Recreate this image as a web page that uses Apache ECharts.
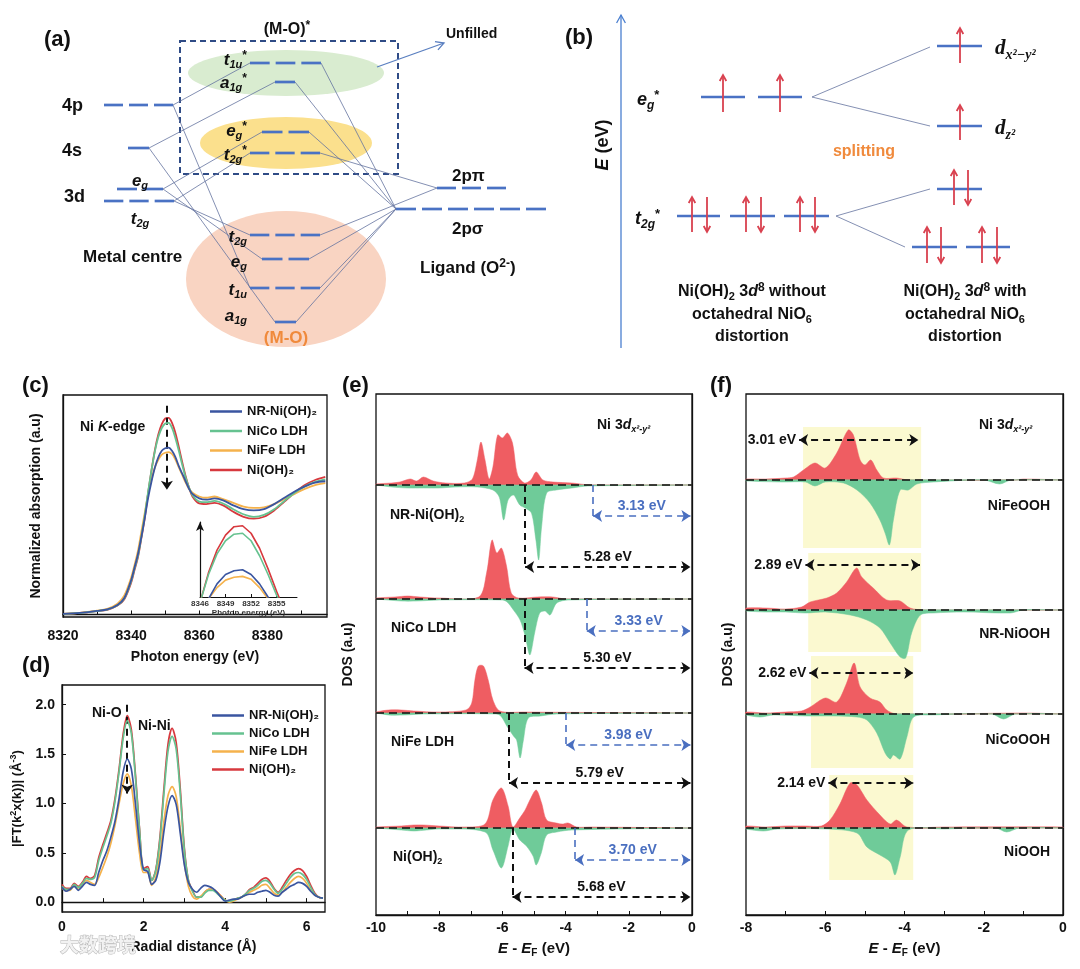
<!DOCTYPE html>
<html><head><meta charset="utf-8">
<script src="https://cdn.jsdelivr.net/npm/echarts@6.0.0/dist/echarts.min.js"></script>
<style>html,body{margin:0;padding:0;background:#fff}#main{width:1080px;height:969px}</style>
</head><body><div id="main"></div>
<script>
// ---------------- DATA ----------------
// (c) Ni K-edge XANES
const xanesE = [8320,8325,8330,8333,8336,8338,8340,8341,8342,8343,
  8344,8345,8346,8347,8348,8349,8350,8351,8352,8353,
  8354,8355,8356,8357,8358,8360,8362,8364.5,8367,8370,
  8373,8376,8379,8382,8385,8388,8391,8394,8397];
const xanesNR = [0.005,0.012,0.028,0.04,0.075,0.13,0.27,0.37,0.475,0.61,
  0.76,0.92,1.05,1.16,1.24,1.29,1.31,1.315,1.29,1.24,
  1.17,1.11,1.05,0.99,0.95,0.915,0.905,0.915,0.9,0.86,
  0.83,0.82,0.83,0.87,0.92,0.97,1.01,1.04,1.05];
const xanesNiCo = [0.005,0.012,0.027,0.038,0.072,0.125,0.26,0.36,0.46,0.61,
  0.78,0.97,1.14,1.29,1.40,1.47,1.505,1.51,1.47,1.39,
  1.29,1.18,1.08,1.00,0.94,0.89,0.885,0.895,0.875,0.83,
  0.79,0.77,0.785,0.83,0.895,0.96,1.01,1.045,1.065];
const xanesNiFe = [0.005,0.013,0.03,0.045,0.085,0.15,0.29,0.39,0.5,0.65,
  0.80,0.95,1.07,1.16,1.22,1.26,1.275,1.28,1.265,1.22,
  1.16,1.10,1.04,0.99,0.96,0.93,0.92,0.93,0.91,0.88,
  0.85,0.84,0.845,0.87,0.91,0.95,0.99,1.02,1.035];
const xanesNiOH = [0.005,0.012,0.026,0.037,0.07,0.12,0.25,0.35,0.45,0.6,
  0.76,0.96,1.14,1.30,1.42,1.50,1.545,1.55,1.51,1.43,
  1.32,1.20,1.09,1.00,0.93,0.875,0.87,0.88,0.86,0.81,
  0.77,0.755,0.77,0.82,0.89,0.96,1.02,1.06,1.085];
const xanesTicks = [8320,8340,8360,8380];
const insetTicks = [8346,8349,8352,8355];

// (d) EXAFS FT
const exafsR = [0.0,0.1,0.2,0.3,0.4,0.5,0.6,0.7,0.8,0.9,
  1.0,1.1,1.2,1.3,1.4,1.5,1.6,1.7,1.8,1.9,
  2.0,2.1,2.2,2.3,2.4,2.5,2.6,2.7,2.8,2.9,
  3.0,3.1,3.2,3.3,3.4,3.5,3.6,3.7,3.8,3.9,
  4.0,4.1,4.2,4.3,4.4,4.5,4.6,4.7,4.8,4.9,
  5.0,5.1,5.2,5.3,5.4,5.5,5.6,5.7,5.8,5.9,
  6.0,6.1,6.2,6.3,6.4];
const exafsNiOH = [0.18,0.14,0.14,0.19,0.16,0.20,0.26,0.24,0.27,0.45,
  0.58,0.70,0.83,1.05,1.35,1.70,1.89,1.75,1.30,0.75,
  0.34,0.36,0.22,0.33,0.65,1.15,1.60,1.76,1.62,1.15,
  0.55,0.22,0.12,0.05,0.05,0.10,0.13,0.13,0.10,0.06,
  0.02,0.01,0.02,0.04,0.05,0.08,0.13,0.15,0.19,0.23,
  0.245,0.21,0.14,0.10,0.15,0.22,0.28,0.32,0.34,0.32,
  0.26,0.17,0.09,0.05,0.04];
const exafsNiCo = [0.16,0.13,0.13,0.18,0.15,0.19,0.24,0.23,0.25,0.42,
  0.55,0.67,0.80,1.02,1.32,1.66,1.84,1.71,1.27,0.74,
  0.33,0.34,0.22,0.32,0.62,1.10,1.53,1.68,1.55,1.10,
  0.53,0.22,0.11,0.05,0.05,0.09,0.12,0.12,0.09,0.05,
  0.02,0.01,0.02,0.04,0.05,0.08,0.12,0.14,0.17,0.21,
  0.22,0.19,0.13,0.09,0.13,0.19,0.25,0.29,0.30,0.28,
  0.23,0.15,0.08,0.05,0.04];
const exafsNR = [0.15,0.11,0.13,0.16,0.12,0.16,0.20,0.18,0.17,0.30,
  0.42,0.52,0.66,0.82,1.05,1.32,1.45,1.35,1.00,0.60,
  0.33,0.31,0.18,0.22,0.40,0.72,0.97,1.08,0.99,0.70,
  0.38,0.20,0.13,0.10,0.14,0.17,0.16,0.14,0.10,0.05,
  0.01,0.02,0.03,0.03,0.05,0.07,0.08,0.08,0.10,0.11,
  0.12,0.10,0.07,0.06,0.10,0.13,0.16,0.18,0.20,0.19,
  0.16,0.11,0.07,0.05,0.04];
const exafsNiFe = [0.14,0.12,0.12,0.17,0.13,0.18,0.22,0.20,0.18,0.25,
  0.35,0.46,0.60,0.78,1.00,1.20,1.30,1.18,0.85,0.50,
  0.30,0.30,0.17,0.25,0.48,0.82,1.08,1.17,1.07,0.75,
  0.40,0.16,0.06,0.03,0.06,0.10,0.13,0.13,0.10,0.06,
  0.02,0.00,0.01,0.03,0.05,0.07,0.10,0.12,0.14,0.17,
  0.18,0.14,0.09,0.07,0.10,0.15,0.20,0.24,0.26,0.24,
  0.19,0.12,0.07,0.05,0.04];
const exafsYTicks = [0,0.5,1,1.5,2];
const exafsXTicks = [0,2,4,6];

// (e) Ni 3d(x2-y2) PDOS of the hydroxides: [E - EF, DOS]; spin-up / spin-down magnitude
const eNR_up = [[-10,0.01],[-9.5,0.02],[-9.24,0.03],[-8.92,0.06],[-8.71,0.04],[-8.5,0.08],[-8.19,0.04],[-7.8,0.02],[-7.2,0.02],[-6.95,0.06],[-6.8,0.24],[-6.68,0.43],[-6.55,0.25],[-6.42,0.06],[-6.3,0.18],[-6.15,0.5],[-6.0,0.47],[-5.84,0.52],[-5.68,0.42],[-5.52,0.1],[-5.3,0.02],[-5.1,0.05],[-4.93,0.13],[-4.72,0.05],[-4.4,0.03],[-3.8,0.02],[-3.2,0.0],[0,0]];
const eNR_dn = [[-10,0],[-9.5,0.02],[-9,0.03],[-8.5,0.03],[-8,0.03],[-7.5,0.02],[-6.8,0.02],[-6.3,0.05],[-6.1,0.12],[-5.96,0.35],[-5.82,0.15],[-5.65,0.1],[-5.45,0.2],[-5.28,0.23],[-5.08,0.28],[-4.94,0.55],[-4.85,0.75],[-4.76,0.42],[-4.6,0.08],[-4.3,0.05],[-3.8,0.03],[-3.3,0.01],[0,0]];
const eNiCo_up = [[-10,0.01],[-9.4,0.02],[-9,0.03],[-8.6,0.02],[-8,0.01],[-6.75,0.02],[-6.5,0.26],[-6.33,0.59],[-6.18,0.46],[-6.03,0.51],[-5.87,0.33],[-5.72,0.06],[-5.5,0.01],[-4.9,0.02],[-4.4,0.02],[-4,0.0],[0,0]];
const eNiCo_dn = [[-10,0],[-9.2,0.02],[-8.7,0.02],[-8,0.01],[-6,0.01],[-5.85,0.03],[-5.65,0.11],[-5.44,0.21],[-5.28,0.37],[-5.13,0.56],[-4.98,0.34],[-4.82,0.14],[-4.65,0.12],[-4.49,0.16],[-4.28,0.04],[-3.9,0.01],[0,0]];
const eNiFe_up = [[-10,0.01],[-9.6,0.03],[-9.2,0.03],[-8.8,0.02],[-8,0.01],[-7.15,0.03],[-6.97,0.1],[-6.87,0.33],[-6.76,0.47],[-6.6,0.47],[-6.45,0.33],[-6.3,0.13],[-6.08,0.02],[-5.3,0.01],[0,0]];
const eNiFe_dn = [[-10,0],[-9.6,0.02],[-9.1,0.02],[-8.5,0.01],[-6.2,0.01],[-6.05,0.03],[-5.86,0.13],[-5.65,0.23],[-5.55,0.27],[-5.44,0.45],[-5.34,0.28],[-5.18,0.05],[-4.8,0.03],[-4.28,0.01],[0,0]];
const eNiOH_up = [[-10,0.01],[-9.2,0.02],[-8.8,0.03],[-8.5,0.03],[-8,0.02],[-7.2,0.01],[-6.55,0.04],[-6.3,0.28],[-6.03,0.4],[-5.82,0.22],[-5.67,0.01],[-5.45,0.1],[-5.28,0.18],[-5.13,0.28],[-4.93,0.38],[-4.76,0.25],[-4.6,0.08],[-4.3,0.05],[-4.1,0.04],[-3.92,0.05],[-3.65,0.01],[-3.2,0.01],[0,0]];
const eNiOH_dn = [[-10,0],[-9.2,0.02],[-8.8,0.03],[-8.4,0.02],[-8,0.01],[-6.55,0.04],[-6.3,0.22],[-6.03,0.4],[-5.82,0.18],[-5.67,0.01],[-5.45,0.12],[-5.24,0.18],[-5.03,0.28],[-4.93,0.37],[-4.77,0.25],[-4.6,0.07],[-4.28,0.04],[-3.8,0.02],[0,0]];
const eGapBlue = [3.13, 3.33, 3.98, 3.70];
const eGapBlack = [5.28, 5.30, 5.79, 5.68];

// (f) Ni 3d(x2-y2) PDOS of the oxyhydroxides
const fNiFe_up = [[-8,0.01],[-7.5,0.01],[-7,0.02],[-6.8,0.03],[-6.55,0.1],[-6.26,0.17],[-6.0,0.12],[-5.71,0.27],[-5.42,0.5],[-5.29,0.45],[-5.12,0.2],[-5.0,0.15],[-4.85,0.2],[-4.7,0.1],[-4.53,0.02],[-4.2,0.02],[-3.9,0.0],[-1.2,0.0],[-1.0,0.01],[0,0]];
const fNiFe_dn = [[-8,0.01],[-7.06,0.02],[-6.5,0.02],[-6.26,0.06],[-6.0,0.02],[-5.54,0.03],[-5.2,0.1],[-4.87,0.23],[-4.62,0.4],[-4.49,0.53],[-4.38,0.65],[-4.28,0.4],[-4.11,0.1],[-3.9,0.1],[-3.69,0.04],[-3.27,0.02],[-2,0.0],[-1.6,0.04],[-1.3,0.0],[0,0]];
const fNR_up = [[-8,0.02],[-7.5,0.02],[-7,0.01],[-6.6,0.03],[-6.38,0.08],[-5.96,0.12],[-5.71,0.17],[-5.46,0.28],[-5.21,0.42],[-5.08,0.33],[-4.79,0.22],[-4.45,0.1],[-4.11,0.09],[-3.86,0.02],[-3.5,0],[0,0]];
const fNR_dn = [[-8,0.01],[-7.5,0.02],[-7,0.02],[-6.5,0.03],[-6,0.02],[-5.37,0.05],[-4.95,0.1],[-4.62,0.18],[-4.36,0.33],[-4.11,0.47],[-3.97,0.48],[-3.82,0.23],[-3.6,0.05],[-3.27,0.03],[-2.5,0.02],[-1.33,0.03],[-1,0.0],[0,0]];
const fNiCo_up = [[-8,0.02],[-7.5,0.01],[-7,0.02],[-6.6,0.03],[-6.38,0.07],[-6.0,0.16],[-5.71,0.12],[-5.46,0.31],[-5.27,0.51],[-5.12,0.27],[-4.87,0.16],[-4.62,0.12],[-4.45,0.04],[-4.2,0],[-1,0.01],[0,0]];
const fNiCo_dn = [[-8,0.01],[-7.65,0.03],[-7.3,0.01],[-6.5,0.02],[-5.8,0.02],[-5.2,0.03],[-4.95,0.06],[-4.7,0.19],[-4.49,0.39],[-4.36,0.45],[-4.28,0.41],[-4.11,0.45],[-3.94,0.23],[-3.77,0.03],[-3.3,0.01],[-1.8,0.0],[-1.5,0.05],[-1.2,0],[0,0]];
const fNiOOH_up = [[-8,0.02],[-7.5,0.01],[-7,0.02],[-6.5,0.02],[-6.1,0.02],[-5.88,0.08],[-5.63,0.24],[-5.37,0.45],[-5.2,0.43],[-4.95,0.28],[-4.62,0.13],[-4.36,0.04],[-4.2,0.08],[-3.94,0.01],[-3,0.01],[0,0.01]];
const fNiOOH_dn = [[-8,0.01],[-7.56,0.03],[-7.2,0.01],[-6,0.01],[-5.2,0.05],[-4.95,0.19],[-4.62,0.27],[-4.36,0.34],[-4.24,0.47],[-4.11,0.29],[-3.9,0.02],[-3,0.01],[-1.7,0.0],[-1.42,0.04],[-1.1,0],[0,0]];
const fGap = [3.01, 2.89, 2.62, 2.14];
const fGapStart = [-6.66, -6.50, -6.40, -5.92];
const fBands = [[-6.56,-3.58,3.67,4.88],[-6.43,-3.58,2.63,3.62],[-6.36,-3.78,1.47,2.59],[-5.90,-3.78,0.35,1.40]];

// (a) MO diagram, energy levels: [left, right, level, number of degenerate orbitals]
const aMetalLevels = [[104,173,105,3],[128,149,148,1],[117,163,189,2],[104,174,201,3]];
const aMOLevels = [[250,321,63,3],[275,295,82,1],[262,309,132,2],[250,320,153,3],[250,320,235,3],[262,309,259,2],[250,320,288,3],[275,296,322,1]];
const aLigandLevels = [[437,506,188,3],[396,546,209,6]];
const aLinks = [[173,105,250,63],[173,105,250,288],[149,148,275,82],[149,148,275,322],[163,189,262,132],[163,189,262,259],[174,201,250,153],[174,201,250,235],
  [396,209,321,63],[396,209,295,82],[396,209,309,132],[396,209,320,288],[396,209,296,322],[396,209,309,259],[437,188,320,153],[437,188,320,235]];
const aClouds = [[286,73,98,23],[286,143,86,26],[286,279,100,68]];
const aBox = [[180,41,398,174]];
const aArrow = [[377,67,444,43]];
// (b) crystal-field splitting diagram
const bLevels = [[701,745,97,1],[758,802,97,1],[937,982,46,1],[937,982,126,1],[677,720,216,1],[730,775,216,1],[784,829,216,1],[937,982,189,1],[912,957,247,1],[966,1010,247,1]];
const bLinks = [[812,97,930,47],[812,97,930,126],[836,216,930,189],[836,216,905,247]];
const bSpins = [[723,112,75],[780,112,75],[960,63,28],[960,140,105],[692,232,197],[707,197,232],[746,232,197],[761,197,232],[800,232,197],[815,197,232],[954,205,170],[968,170,205],[927,263,227],[941,227,263],[982,263,227],[997,227,263]];
const bAxis = [[621,348,621,15]];

// ---------------- STYLE ----------------
const F = '"Liberation Sans", Arial, Helvetica, sans-serif';
const FSERIF = '"Liberation Serif", "DejaVu Serif", "Times New Roman", serif';
const INK = '#111';
const C_BLUE = '#3a55a0', C_GREEN = '#66c290', C_ORANGE = '#f5b24c', C_RED = '#d7393e';
const DOS_RED = '#ef5d62', DOS_GREEN = '#6fcb99';
const LV = '#4a72c4', LINK = '#6474a0', SPIN = '#d9414f', ANN_BLUE = '#4a6fc0';
const cloudColors = ['#d9ecd0', '#fbe08d', '#f9d4c2'];

function rich(size, fam) {
  fam = fam || F;
  const lh = Math.round(size * 1.25);
  const sm = Math.round(size * 0.66);
  const b = {fontFamily: fam, fontWeight: 'bold', fontSize: size, lineHeight: lh};
  return {
    n: b,
    i: Object.assign({}, b, {fontStyle: 'italic'}),
    s: {fontFamily: fam, fontWeight: 'bold', fontStyle: 'italic', fontSize: sm, lineHeight: Math.round(size * 0.6), verticalAlign: 'bottom'},
    sn: {fontFamily: fam, fontWeight: 'bold', fontSize: sm, lineHeight: Math.round(size * 0.6), verticalAlign: 'bottom'},
    p: {fontFamily: fam, fontWeight: 'bold', fontSize: Math.round(size * 0.72), lineHeight: Math.round(size * 0.6), verticalAlign: 'top'}
  };
}
function T(x, y, text, size, o) {
  o = o || {};
  const st = {text: text, rich: rich(size, o.fam), fill: o.color || INK, fontFamily: o.fam || F, fontWeight: 'bold', fontSize: size, align: o.align || 'left', verticalAlign: 'middle'};
  return {type: 'text', x: x, y: y, rotation: o.rot || 0, z: 100, silent: true, style: st};
}

// ---------- custom renderers for diagrams ----------
function renderLevels(params, api) {
  const n = api.value(3);
  const a = api.coord([api.value(0), api.value(2)]), b = api.coord([api.value(1), api.value(2)]);
  const gap = n > 1 ? 6 : 0;
  const w = (b[0] - a[0] - gap * (n - 1)) / n;
  const ch = [];
  for (let k = 0; k < n; k++) {
    const s = a[0] + k * (w + gap);
    ch.push({type: 'line', shape: {x1: s, y1: a[1], x2: s + w, y2: a[1]}, style: {stroke: api.visual('color'), lineWidth: 2.7}});
  }
  return {type: 'group', children: ch};
}
function renderCloud(params, api) {
  const c = api.coord([api.value(0), api.value(1)]);
  const rx = api.size([api.value(2), 0])[0], ry = api.size([0, api.value(3)])[1];
  return {type: 'circle', shape: {cx: 0, cy: 0, r: rx}, x: c[0], y: c[1], scaleY: ry / rx, style: {fill: api.visual('color')}};
}
function renderBox(params, api) {
  const a = api.coord([api.value(0), api.value(1)]), b = api.coord([api.value(2), api.value(3)]);
  return {type: 'rect', shape: {x: a[0], y: a[1], width: b[0] - a[0], height: b[1] - a[1]}, style: {fill: 'none', stroke: '#2f4b86', lineWidth: 2, lineDash: [6, 4]}};
}
function renderLink(params, api) {
  const a = api.coord([api.value(0), api.value(1)]), b = api.coord([api.value(2), api.value(3)]);
  return {type: 'line', shape: {x1: a[0], y1: a[1], x2: b[0], y2: b[1]}, style: {stroke: api.visual('color'), lineWidth: 0.8}};
}
function arrowEls(a, b, color, lw, head) {
  const dx = b[0] - a[0], dy = b[1] - a[1], L = Math.hypot(dx, dy), ux = dx / L, uy = dy / L;
  const hw = head * 0.55, bx = b[0] - ux * head, by = b[1] - uy * head;
  return [
    {type: 'line', shape: {x1: a[0], y1: a[1], x2: b[0], y2: b[1]}, style: {stroke: color, lineWidth: lw}},
    {type: 'polyline', shape: {points: [[bx - uy * hw, by + ux * hw], [b[0], b[1]], [bx + uy * hw, by - ux * hw]]}, style: {stroke: color, lineWidth: lw, fill: 'none'}}
  ];
}
function renderArrow(params, api) {
  const a = api.coord([api.value(0), api.value(1)]), b = api.coord([api.value(2), api.value(3)]);
  return {type: 'group', children: arrowEls(a, b, api.visual('color'), 1.3, 8)};
}
function renderSpin(params, api) {
  const a = api.coord([api.value(0), api.value(1)]), b = api.coord([api.value(0), api.value(2)]);
  return {type: 'group', children: arrowEls(a, b, api.visual('color'), 1.8, 6)};
}
function diag(render, data, color, z, enc) {
  return {type: 'custom', xAxisIndex: 0, yAxisIndex: 0, renderItem: render, data: data, itemStyle: {color: color}, silent: true, z: z, encode: enc || {x: 0, y: 1}};
}

// ---------------- SERIES ----------------
const series = [];
series.push(diag(renderCloud, aClouds.map((c, i) => ({value: c, itemStyle: {color: cloudColors[i]}})), '#ddd', 1));
series.push(diag(renderBox, aBox, '#2f4b86', 2));
series.push(diag(renderLink, aLinks, LINK, 3));
series.push(diag(renderLink, bLinks, LINK, 3));
series.push(diag(renderLevels, aMetalLevels, LV, 4, {x: [0, 1], y: 2}));
series.push(diag(renderLevels, aMOLevels, LV, 4, {x: [0, 1], y: 2}));
series.push(diag(renderLevels, aLigandLevels, LV, 4, {x: [0, 1], y: 2}));
series.push(diag(renderLevels, bLevels, LV, 4, {x: [0, 1], y: 2}));
series.push(diag(renderArrow, aArrow, '#5a7fc0', 5));
series.push(diag(renderArrow, bAxis, '#4a7fd0', 5));
series.push(diag(renderSpin, bSpins, SPIN, 6, {x: 0, y: [1, 2]}));

// (c) + inset
const cDefs = [['Ni(OH)₂', xanesNiOH, C_RED], ['NiFe LDH', xanesNiFe, C_ORANGE], ['NiCo LDH', xanesNiCo, C_GREEN], ['NR-Ni(OH)₂', xanesNR, C_BLUE]];
cDefs.forEach(function (d, k) {
  const pts = xanesE.map((e, i) => [e, d[1][i]]);
  const s = {name: d[0], type: 'line', xAxisIndex: 1, yAxisIndex: 1, data: pts, smooth: 0.3, symbol: 'none', lineStyle: {color: d[2], width: 1.8}, itemStyle: {color: d[2]}, z: 3 + k, silent: true};
  if (k === 3) s.markLine = {silent: true, symbol: ['none', 'arrow'], symbolSize: 9, label: {show: false},
    lineStyle: {color: INK, type: [7, 5], width: 2},
    data: [[{coord: [8350.5, 1.646]}, {coord: [8350.5, 0.984]}]]};
  series.push(s);
  series.push({name: d[0], type: 'line', xAxisIndex: 2, yAxisIndex: 2, data: pts, smooth: false, symbol: 'none', lineStyle: {color: d[2], width: 1.6}, itemStyle: {color: d[2]}, z: 3 + k, silent: true});
});
// (d)
const dDefs = [['Ni(OH)₂', exafsNiOH, C_RED], ['NiFe LDH', exafsNiFe, C_ORANGE], ['NiCo LDH', exafsNiCo, C_GREEN], ['NR-Ni(OH)₂', exafsNR, C_BLUE]];
dDefs.forEach(function (d, k) {
  const s = {name: d[0], type: 'line', xAxisIndex: 3, yAxisIndex: 3, data: exafsR.map((r, i) => [r, d[1][i]]), smooth: 0.3, symbol: 'none', lineStyle: {color: d[2], width: 1.7}, itemStyle: {color: d[2]}, z: 3 + k, silent: true};
  if (k === 3) s.markLine = {silent: true, symbol: ['none', 'arrow'], symbolSize: 9, label: {show: false},
    lineStyle: {color: INK, type: [7, 5], width: 2},
    data: [[{coord: [1.6, 2.0]}, {coord: [1.6, 1.1]}]]};
  series.push(s);
});

// DOS filled areas (custom polygons through the axis scales)
function dosArea(axis, off, arr, sign, color) {
  return {type: 'custom', xAxisIndex: axis, yAxisIndex: axis, silent: true, z: 4,
    data: arr.map(p => [p[0], off + sign * p[1]]), encode: {x: 0, y: 1},
    renderItem: function (params, api) {
      if (params.dataIndex !== 0) return null;
      const pts = arr.map(p => api.coord([p[0], off + sign * p[1]]));
      const a = api.coord([arr[0][0], off]), b = api.coord([arr[arr.length - 1][0], off]);
      return {type: 'polygon', shape: {points: [a].concat(pts, [b]), smooth: 0.3}, style: {fill: color, stroke: color, lineWidth: 0.5}};
    }};
}
const eOff = [4.30, 3.16, 2.02, 0.87];
const fOff = [4.35, 3.05, 2.01, 0.87];
const eUp = [eNR_up, eNiCo_up, eNiFe_up, eNiOH_up], eDn = [eNR_dn, eNiCo_dn, eNiFe_dn, eNiOH_dn];
const fUp = [fNiFe_up, fNR_up, fNiCo_up, fNiOOH_up], fDn = [fNiFe_dn, fNR_dn, fNiCo_dn, fNiOOH_dn];
const eBlueY = [3.99, 2.84, 1.70, 0.55], eBlackY = [3.48, 2.47, 1.32, 0.18];
const fArrowY = [4.75, 3.50, 2.42, 1.32];

series.push({type: 'line', xAxisIndex: 5, yAxisIndex: 5, data: [], z: 1, silent: true,
  markArea: {silent: true, itemStyle: {color: '#fbf9d0', opacity: 1}, data: fBands.map(b => [{coord: [b[0], b[2]]}, {coord: [b[1], b[3]]}])}});

for (let k = 0; k < 4; k++) {
  series.push(dosArea(4, eOff[k], eUp[k], 1, DOS_RED));
  series.push(dosArea(4, eOff[k], eDn[k], -1, DOS_GREEN));
  series.push(dosArea(5, fOff[k], fUp[k], 1, DOS_RED));
  series.push(dosArea(5, fOff[k], fDn[k], -1, DOS_GREEN));
}

const dash = [7, 5];
function lbl(text, color, pos) {
  return {show: true, position: pos, formatter: text, color: color, fontFamily: F, fontWeight: 'bold', fontSize: 14, distance: 3};
}
const eML = [];
for (let k = 0; k < 4; k++) {
  eML.push({yAxis: eOff[k], symbol: 'none', lineStyle: {color: INK, type: [8, 5], width: 1.5}, label: {show: false}});
  eML.push([{coord: [-eGapBlue[k], eOff[k]], symbol: 'none', lineStyle: {color: ANN_BLUE, type: dash, width: 1.6}, label: {show: false}}, {coord: [-eGapBlue[k], eBlueY[k]], symbol: 'none'}]);
  eML.push([{coord: [-eGapBlue[k], eBlueY[k]], symbol: 'arrow', lineStyle: {color: ANN_BLUE, type: dash, width: 1.6}, label: lbl(eGapBlue[k].toFixed(2) + ' eV', ANN_BLUE, 'middle')}, {coord: [-0.05, eBlueY[k]], symbol: 'arrow'}]);
  eML.push([{coord: [-eGapBlack[k], eOff[k]], symbol: 'none', lineStyle: {color: INK, type: dash, width: 2}, label: {show: false}}, {coord: [-eGapBlack[k], eBlackY[k]], symbol: 'none'}]);
  eML.push([{coord: [-eGapBlack[k], eBlackY[k]], symbol: 'arrow', lineStyle: {color: INK, type: dash, width: 1.8}, label: lbl(eGapBlack[k].toFixed(2) + ' eV', INK, 'middle')}, {coord: [-0.05, eBlackY[k]], symbol: 'arrow'}]);
}
series.push({type: 'line', xAxisIndex: 4, yAxisIndex: 4, data: [], z: 10, silent: true,
  markLine: {silent: true, symbol: 'none', symbolSize: 9, precision: 4, label: {show: false}, data: eML}});
const fML = [];
for (let k = 0; k < 4; k++) {
  fML.push({yAxis: fOff[k], symbol: 'none', lineStyle: {color: INK, type: [8, 5], width: 1.5}, label: {show: false}});
  fML.push([{coord: [fGapStart[k], fArrowY[k]], symbol: 'arrow', lineStyle: {color: INK, type: dash, width: 1.8}, label: lbl(fGap[k].toFixed(2) + ' eV', INK, 'start')}, {coord: [fGapStart[k] + fGap[k], fArrowY[k]], symbol: 'arrow'}]);
}
series.push({type: 'line', xAxisIndex: 5, yAxisIndex: 5, data: [], z: 10, silent: true,
  markLine: {silent: true, symbol: 'none', symbolSize: 9, precision: 4, label: {show: false}, data: fML}});

// ---------------- AXES ----------------
const nameStyle = {fontFamily: F, fontWeight: 'bold', fontSize: 14, color: INK};
const labStyle = {fontFamily: F, fontWeight: 'bold', fontSize: 14, color: INK};
const plain = v => String(v);
const hidden = {show: false};
const xAxes = [
  {gridIndex: 0, type: 'value', min: 0, max: 1080, show: false},
  {gridIndex: 1, type: 'value', min: 8320, max: 8397.5, axisLine: {lineStyle: {color: INK, width: 1.3}},
    axisTick: {inside: true, length: 4, customValues: [8330, 8340, 8350, 8360, 8370, 8380, 8390], lineStyle: {color: INK}},
    axisLabel: Object.assign({customValues: xanesTicks, margin: 12, formatter: plain}, labStyle), splitLine: hidden,
    name: 'Photon energy (eV)', nameLocation: 'middle', nameGap: 33, nameTextStyle: nameStyle},
  {gridIndex: 2, type: 'value', min: 8346, max: 8357.4, axisLine: {lineStyle: {color: INK, width: 1}},
    axisTick: {inside: true, length: 3, customValues: insetTicks, lineStyle: {color: INK}},
    axisLabel: {customValues: insetTicks, formatter: plain, fontFamily: F, fontWeight: 'bold', fontSize: 8, color: '#333', margin: 3}, splitLine: hidden,
    name: 'Photon energy (eV)', nameLocation: 'middle', nameGap: 12, nameTextStyle: {fontFamily: F, fontWeight: 'bold', fontSize: 8, color: '#333'}},
  {gridIndex: 3, type: 'value', min: 0, max: 6.45, axisLine: {lineStyle: {color: INK, width: 1.3}},
    axisTick: {inside: true, length: 4, customValues: [1, 2, 3, 4, 5, 6], lineStyle: {color: INK}},
    axisLabel: Object.assign({customValues: exafsXTicks, margin: 8, formatter: plain}, labStyle), splitLine: hidden,
    name: 'Radial distance (Å)', nameLocation: 'middle', nameGap: 28, nameTextStyle: nameStyle},
  {gridIndex: 4, type: 'value', min: -10, max: 0, axisLine: {lineStyle: {color: INK, width: 1.3}},
    axisTick: {inside: true, length: 4, customValues: [-9, -8, -7, -6, -5, -4, -3, -2, -1], lineStyle: {color: INK}},
    axisLabel: Object.assign({customValues: [-10, -8, -6, -4, -2, 0], margin: 6, formatter: plain}, labStyle), splitLine: hidden,
    name: '{i|E}{n| - }{i|E}{sn|F}{n| (eV)}', nameLocation: 'middle', nameGap: 24, nameTextStyle: Object.assign({rich: rich(15)}, nameStyle)},
  {gridIndex: 5, type: 'value', min: -8, max: 0, axisLine: {lineStyle: {color: INK, width: 1.3}},
    axisTick: {inside: true, length: 4, customValues: [-7, -6, -5, -4, -3, -2, -1], lineStyle: {color: INK}},
    axisLabel: Object.assign({customValues: [-8, -6, -4, -2, 0], margin: 6, formatter: plain}, labStyle), splitLine: hidden,
    name: '{i|E}{n| - }{i|E}{sn|F}{n| (eV)}', nameLocation: 'middle', nameGap: 24, nameTextStyle: Object.assign({rich: rich(15)}, nameStyle)}
];
const yAxes = [
  {gridIndex: 0, type: 'value', min: 0, max: 360, inverse: true, show: false},
  {gridIndex: 1, type: 'value', min: -0.02, max: 1.73, axisLine: {show: true, lineStyle: {color: INK, width: 1.3}}, axisTick: hidden, axisLabel: hidden, splitLine: hidden,
    name: 'Normalized absorption (a.u)', nameLocation: 'middle', nameGap: 20, nameTextStyle: nameStyle},
  {gridIndex: 2, type: 'value', min: 1.17, max: 1.57, axisLine: {show: true, symbol: ['none', 'arrow'], symbolSize: [6, 9], lineStyle: {color: INK, width: 1.2}}, axisTick: hidden, axisLabel: hidden, splitLine: hidden},
  {gridIndex: 3, type: 'value', min: -0.1, max: 2.2, axisLine: {show: true, lineStyle: {color: INK, width: 1.3}},
    axisTick: {show: true, inside: true, length: 4, customValues: exafsYTicks, lineStyle: {color: INK}},
    axisLabel: Object.assign({customValues: exafsYTicks, margin: 7, formatter: v => Number(v).toFixed(1)}, labStyle), splitLine: hidden,
    name: '{n||FT(k}{p|2}{n|x(k))| (Å}{p|-3}{n|)}', nameLocation: 'middle', nameGap: 37, nameTextStyle: Object.assign({rich: rich(13)}, nameStyle)},
  {gridIndex: 4, type: 'value', min: 0, max: 5.21, axisLine: {show: true, lineStyle: {color: INK, width: 1.3}}, axisTick: hidden, axisLabel: hidden, splitLine: hidden,
    name: 'DOS (a.u)', nameLocation: 'middle', nameGap: 21, nameTextStyle: nameStyle},
  {gridIndex: 5, type: 'value', min: 0, max: 5.21, axisLine: {show: true, lineStyle: {color: INK, width: 1.3}}, axisTick: hidden, axisLabel: hidden, splitLine: hidden,
    name: 'DOS (a.u)', nameLocation: 'middle', nameGap: 11, nameTextStyle: nameStyle}
];
const box = {show: true, borderColor: INK, borderWidth: 1.3, backgroundColor: 'transparent', outerBoundsMode: 'none', containLabel: false};
const grids = [
  {left: 0, top: 0, width: 1080, height: 360, show: false, outerBoundsMode: 'none'},
  Object.assign({left: 63, top: 395, width: 264, height: 222}, box),
  {left: 200, top: 522, width: 97, height: 75, show: false, outerBoundsMode: 'none'},
  Object.assign({left: 62, top: 685, width: 263, height: 227}, box),
  Object.assign({left: 376, top: 394, width: 316, height: 521}, box),
  Object.assign({left: 746, top: 394, width: 317, height: 521}, box)
];
const legendNames = ['NR-Ni(OH)₂', 'NiCo LDH', 'NiFe LDH', 'Ni(OH)₂'];
const legendText = {fontFamily: F, fontWeight: 'bold', fontSize: 13, color: INK};

// ---------------- TEXT ----------------
const R = {align: 'right'}, C = {align: 'center'};
const texts = [
  T(44, 40, '{n|(a)}', 22), T(287, 30, '{n|(M-O)}{p|*}', 16, C), T(446, 34, '{n|Unfilled}', 14),
  T(62, 106, '{n|4p}', 18), T(62, 151, '{n|4s}', 18), T(64, 197, '{n|3d}', 18),
  T(140, 181, '{i|e}{s|g}', 17, C), T(140, 219, '{i|t}{s|2g}', 17, C), T(83, 257, '{n|Metal centre}', 17),
  T(247, 60, '{i|t}{s|1u}{p|*}', 17, R), T(247, 83, '{i|a}{s|1g}{p|*}', 17, R), T(247, 131, '{i|e}{s|g}{p|*}', 17, R), T(247, 155, '{i|t}{s|2g}{p|*}', 17, R),
  T(247, 237, '{i|t}{s|2g}', 17, R), T(247, 262, '{i|e}{s|g}', 17, R), T(247, 290, '{i|t}{s|1u}', 17, R), T(247, 316, '{i|a}{s|1g}', 17, R),
  T(452, 176, '{n|2pπ}', 17), T(452, 229, '{n|2pσ}', 17), T(420, 268, '{n|Ligand (O}{p|2-}{n|)}', 17),
  T(286, 338, '{n|(M-O)}', 17, {align: 'center', color: '#f08a3c'}),
  T(565, 38, '{n|(b)}', 22), T(603, 145, '{i|E}{n| (eV)}', 18, {align: 'center', rot: Math.PI / 2}),
  T(637, 100, '{i|e}{s|g}{p|*}', 18), T(635, 219, '{i|t}{s|2g}{p|*}', 18),
  T(995, 49, '{i|d}{s|x²−y²}', 21, {fam: FSERIF}), T(995, 129, '{i|d}{s|z²}', 21, {fam: FSERIF}),
  T(864, 152, '{n|splitting}', 16, {align: 'center', color: '#f08a3c'}),
  T(752, 292, '{n|Ni(OH)}{sn|2}{n| 3}{i|d}{p|8}{n| without}', 16, C), T(752, 315, '{n|octahedral NiO}{sn|6}', 16, C), T(752, 337, '{n|distortion}', 16, C),
  T(965, 292, '{n|Ni(OH)}{sn|2}{n| 3}{i|d}{p|8}{n| with}', 16, C), T(965, 315, '{n|octahedral NiO}{sn|6}', 16, C), T(965, 337, '{n|distortion}', 16, C),
  T(22, 386, '{n|(c)}', 22), T(80, 427, '{n|Ni }{i|K}{n|-edge}', 14),
  T(22, 666, '{n|(d)}', 22), T(92, 713, '{n|Ni-O}', 14), T(138, 726, '{n|Ni-Ni}', 14),
  T(342, 386, '{n|(e)}', 22), T(597, 425, '{n|Ni 3}{i|d}{s|x²-y²}', 14),
  T(390, 515, '{n|NR-Ni(OH)}{sn|2}', 14), T(391, 628, '{n|NiCo LDH}', 14), T(391, 742, '{n|NiFe LDH}', 14), T(393, 857, '{n|Ni(OH)}{sn|2}', 14),
  T(710, 386, '{n|(f)}', 22), T(979, 425, '{n|Ni 3}{i|d}{s|x²-y²}', 14),
  T(1050, 506, '{n|NiFeOOH}', 14, R), T(1050, 634, '{n|NR-NiOOH}', 14, R), T(1050, 740, '{n|NiCoOOH}', 14, R), T(1050, 852, '{n|NiOOH}', 14, R),
  {type: 'text', x: 60, y: 945, z: 100, silent: true, style: {text: '大数跨境', fill: '#f2f2f2', stroke: '#b5b5b5', lineWidth: 1, fontFamily: '"Noto Sans CJK SC", sans-serif', fontSize: 19, fontWeight: 'bold', align: 'left', verticalAlign: 'middle'}}
];

const chart = echarts.init(document.getElementById('main'), null, {renderer: 'canvas', width: 1080, height: 969});
chart.setOption({
  animation: false,
  backgroundColor: '#ffffff',
  textStyle: {fontFamily: F},
  grid: grids,
  xAxis: xAxes,
  yAxis: yAxes,
  legend: [
    {data: legendNames, orient: 'vertical', left: 205, top: 400, icon: 'rect', itemWidth: 32, itemHeight: 2.5, itemGap: 6.5, textStyle: legendText, selectedMode: false},
    {data: legendNames, orient: 'vertical', left: 207, top: 704, icon: 'rect', itemWidth: 32, itemHeight: 2.5, itemGap: 5, textStyle: legendText, selectedMode: false}
  ],
  series: series,
  graphic: {elements: texts}
});
</script></body></html>
